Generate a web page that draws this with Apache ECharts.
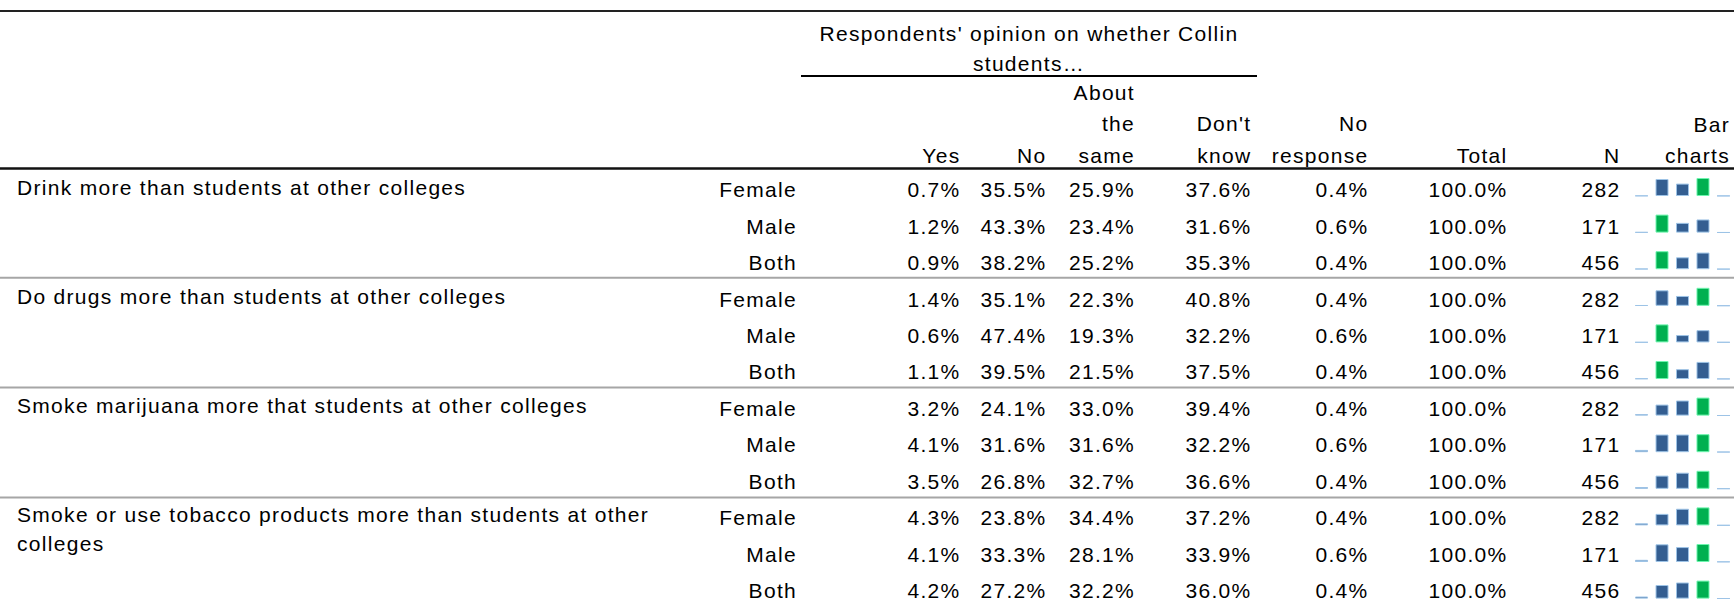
<!DOCTYPE html>
<html>
<head>
<meta charset="utf-8">
<script src="https://cdn.jsdelivr.net/npm/echarts@6/dist/echarts.min.js"></script>
<style>
  html, body { margin: 0; padding: 0; background: #fff; }
  #chart { width: 1734px; height: 605px; }
  #chart text { letter-spacing: 1.3px; }
</style>
</head>
<body>
<div id="chart"></div>
<script>
// ---------------- DATA ----------------
const questions = [
  'Drink more than students at other colleges',
  'Do drugs more than students at other colleges',
  'Smoke marijuana more that students at other colleges',
  'Smoke or use tobacco products more than students at other\ncolleges'
];
const genders = ['Female', 'Male', 'Both'];
const answerCategories = ['Yes', 'No', 'About the same', "Don't know", 'No response'];

const yesPct      = [0.7, 1.2, 0.9,  1.4, 0.6, 1.1,  3.2, 4.1, 3.5,  4.3, 4.1, 4.2];
const noPct       = [35.5, 43.3, 38.2,  35.1, 47.4, 39.5,  24.1, 31.6, 26.8,  23.8, 33.3, 27.2];
const samePct     = [25.9, 23.4, 25.2,  22.3, 19.3, 21.5,  33.0, 31.6, 32.7,  34.4, 28.1, 32.2];
const dontKnowPct = [37.6, 31.6, 35.3,  40.8, 32.2, 37.5,  39.4, 32.2, 36.6,  37.2, 33.9, 36.0];
const noRespPct   = [0.4, 0.6, 0.4,  0.4, 0.6, 0.4,  0.4, 0.6, 0.4,  0.4, 0.6, 0.4];
const totalPct    = [100.0, 100.0, 100.0, 100.0, 100.0, 100.0, 100.0, 100.0, 100.0, 100.0, 100.0, 100.0];
const nCounts     = [282, 171, 456,  282, 171, 456,  282, 171, 456,  282, 171, 456];

// ---------------- LAYOUT / STYLE ----------------
const W = 1734;
const FONT = '"Liberation Sans", Arial, sans-serif';
const FS = 21;
const ROW_TOP = 168, ROW_H = 36.6;
const TEXT_DY = 3.7;
const COL = { q: 17, g: 797, yes: 960.5, no: 1046.5, same: 1135, dk: 1251.5, nr: 1368.5, total: 1507.5, n: 1620.5 };
const SPARK = { left: 1631.3, width: 102.4, dTop: 10, height: 18 };
const DARK_BLUE = '#345E91', LIGHT_BLUE = '#9DC3E6', GREEN = '#00B050', LIGHT_GREEN = '#6DF5AE';

const nRows = yesPct.length;
const rowKeys = [];
for (let i = 0; i < nRows; i++) rowKeys.push(questions[Math.floor(i / 3)] + '|' + genders[i % 3]);
const pct = v => v.toFixed(1) + '%';

// ---------------- OPTION ----------------
const grids = [{ left: 0, width: W, top: ROW_TOP, height: ROW_H * nRows }];
const xAxes = [{ type: 'value', gridIndex: 0, min: 0, max: W, show: false }];
const yAxes = [{ type: 'category', gridIndex: 0, data: rowKeys, inverse: true, show: false }];
const series = [];

series.push({
  type: 'custom',
  coordinateSystem: 'cartesian2d',
  xAxisIndex: 0, yAxisIndex: 0,
  silent: true,
  clip: false,
  data: rowKeys.map((k, i) => [0, i]),
  renderItem: function (params, api) {
    const i = api.value(1);
    const cy = api.coord([0, i])[1];
    const y = cy + TEXT_DY;
    const cell = (colX, text, align) => ({
      type: 'text',
      x: api.coord([colX, i])[0],
      y: y,
      style: { text: text, fill: '#000', fontSize: FS, fontFamily: FONT,
               align: align || 'right', verticalAlign: 'middle' }
    });
    const children = [
      cell(COL.g, genders[i % 3]),
      cell(COL.yes, pct(yesPct[i])),
      cell(COL.no, pct(noPct[i])),
      cell(COL.same, pct(samePct[i])),
      cell(COL.dk, pct(dontKnowPct[i])),
      cell(COL.nr, pct(noRespPct[i])),
      cell(COL.total, pct(totalPct[i])),
      cell(COL.n, String(nCounts[i]))
    ];
    if (i % 3 === 0) {
      children.push({
        type: 'text',
        x: api.coord([COL.q, i])[0],
        y: cy + 1 - 14.5,
        style: { text: questions[i / 3], fill: '#000', fontSize: FS, fontFamily: FONT,
                 align: 'left', verticalAlign: 'top', lineHeight: 29 }
      });
    }
    return { type: 'group', children: children };
  }
});

for (let i = 0; i < nRows; i++) {
  const vals = [yesPct[i], noPct[i], samePct[i], dontKnowPct[i], noRespPct[i]];
  const maxV = Math.max.apply(null, vals);
  const gi = i + 1;
  grids.push({ left: SPARK.left, width: SPARK.width, top: ROW_TOP + ROW_H * i + SPARK.dTop, height: SPARK.height });
  xAxes.push({ type: 'category', gridIndex: gi, data: answerCategories, show: false, boundaryGap: true });
  yAxes.push({ type: 'value', gridIndex: gi, min: 0, max: maxV, show: false });
  series.push({
    type: 'bar',
    xAxisIndex: gi, yAxisIndex: gi,
    barWidth: 13,
    silent: true,
    data: vals.map(v => ({
      value: v,
      itemStyle: v === maxV
        ? { color: GREEN, borderColor: LIGHT_GREEN, borderWidth: 1 }
        : { color: DARK_BLUE, borderColor: LIGHT_BLUE, borderWidth: 1 }
    }))
  });
}

// header texts & rules
const hText = (x, y, text, align) => ({
  type: 'text', x: x, y: y, silent: true,
  style: { text: text, fill: '#000', font: FS + 'px ' + FONT, align: align || 'right', verticalAlign: 'middle',
           textAlign: align || 'right', textVerticalAlign: 'middle' }
});
const hLine = (x1, x2, y, w, c) => ({
  type: 'line', silent: true, shape: { x1: x1, y1: y, x2: x2, y2: y }, style: { stroke: c, lineWidth: w }
});
const H1 = 92, H2 = 123.5, H3 = 155.5;
const graphics = [
  hLine(0, W, 11, 2, '#222'),
  hText(1029, 33, "Respondents' opinion on whether Collin", 'center'),
  hText(1029, 63, 'students…', 'center'),
  hLine(801, 1257, 76, 2, '#000'),
  hText(COL.yes, H3, 'Yes'),
  hText(COL.no, H3, 'No'),
  hText(COL.same, H1, 'About'),
  hText(COL.same, H2, 'the'),
  hText(COL.same, H3, 'same'),
  hText(COL.dk, H2, "Don't"),
  hText(COL.dk, H3, 'know'),
  hText(COL.nr, H2, 'No'),
  hText(COL.nr, H3, 'response'),
  hText(COL.total, H3, 'Total'),
  hText(COL.n, H3, 'N'),
  hText(1730, H2 + 1, 'Bar'),
  hText(1730, H3, 'charts'),
  hLine(0, W, 168.5, 2.5, '#111')
];
for (let g = 1; g < questions.length; g++) {
  graphics.push(hLine(0, W, ROW_TOP + ROW_H * 3 * g, 2, '#A6A6A6'));
}

const chart = echarts.init(document.getElementById('chart'), null, { renderer: 'svg', width: 1734, height: 605 });
chart.setOption({
  animation: false,
  backgroundColor: '#fff',
  grid: grids,
  xAxis: xAxes,
  yAxis: yAxes,
  series: series,
  graphic: { elements: graphics }
});
</script>
</body>
</html>
